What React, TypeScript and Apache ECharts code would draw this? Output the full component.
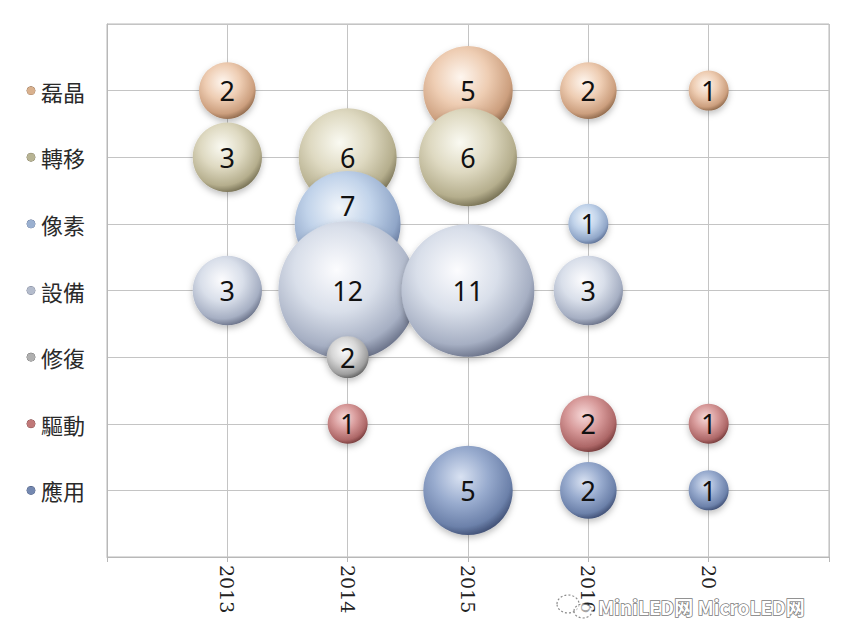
import React, { useEffect, useRef } from "react";
import * as echarts from "echarts";

// Rows, top to bottom
const ROWS = ["磊晶", "轉移", "像素", "設備", "修復", "驅動", "應用"];
const YEAR_TICKS = [2013, 2014, 2015, 2016, 2017];
const YEAR_LABELS = ["2013", "2014", "2015", "2016", "20"];

// Each point: [year, count, bubbleArea] (bubbleArea defaults to count)
const EPI = [[2013, 2], [2015, 5], [2016, 2], [2017, 1]];
const TRANSFER = [[2013, 3], [2014, 6], [2015, 6]];
const PIXEL = [[2014, 7], [2016, 1]];
const EQUIP = [[2013, 3], [2014, 12], [2015, 11], [2016, 3]];
const REPAIR = [[2014, 2, 1.1]];
const DRIVE = [[2014, 1], [2016, 2], [2017, 1]];
const APP = [[2015, 5], [2016, 2], [2017, 1]];

const SERIES_DATA = [EPI, TRANSFER, PIXEL, EQUIP, REPAIR, DRIVE, APP];

// sphere colours: highlight, base, mid, edge, legend dot
const PALETTE = [
  ["#fef6ef", "#eecdb3", "#cc9f7e", "#8a6548", "#d9b18e"],
  ["#fafaf2", "#ded9c1", "#b5ae8d", "#726c50", "#b8b494"],
  ["#f2f6fb", "#c1d3ea", "#90a6c8", "#5a6d92", "#9ab0d0"],
  ["#fcfcfe", "#d9dfea", "#a6afc3", "#656d84", "#b4bccc"],
  ["#fcfcfc", "#d6d6d6", "#9e9e9e", "#5c5c5c", "#b0b0b0"],
  ["#f7d9d9", "#d69898", "#ad6767", "#713838", "#c07878"],
  ["#d9e2f2", "#98abce", "#6c81aa", "#3c4b70", "#7488b0"],
];

const LABEL_RAISE = { row: "像素", year: 2014, dy: -18 };

const App: React.FC = () => {
  const ref = useRef<HTMLDivElement>(null);

  useEffect(() => {
    if (!ref.current) return;
    const chart = echarts.init(ref.current, undefined, { renderer: "svg" });

    const rich: Record<string, any> = {};
    ROWS.forEach((_, i) => {
      rich["d" + i] = {
        width: 8,
        height: 8,
        borderRadius: 4,
        backgroundColor: PALETTE[i][4],
        borderColor: PALETTE[i][3],
        borderWidth: 0.5,
      };
    });
    rich.t = {
      fontFamily: "'Noto Sans CJK TC', 'Noto Sans CJK SC', sans-serif",
      fontSize: 22,
      color: "#2a2a2a",
      padding: [0, 0, 0, 6],
    };

    const series = SERIES_DATA.map((rows, i) => {
      const name = ROWS[i];
      const yVal = ROWS.length - i;
      const [hi, base, mid, edge] = PALETTE[i];
      return {
        type: "scatter",
        name,
        symbol: "circle",
        symbolSize: (v: number[]) => 40 * Math.sqrt(v[3]),
        data: rows.map((p) => {
          const item: any = { value: [p[0], yVal, p[1], p[2] ?? p[1]] };
          if (name === LABEL_RAISE.row && p[0] === LABEL_RAISE.year) {
            item.label = { offset: [0, LABEL_RAISE.dy] };
          }
          return item;
        }),
        itemStyle: {
          opacity: 1,
          color: {
            type: "radial",
            x: 0.42,
            y: 0.35,
            r: 0.68,
            colorStops: [
              { offset: 0, color: hi },
              { offset: 0.45, color: base },
              { offset: 0.82, color: mid },
              { offset: 1, color: edge },
            ],
          },
          shadowBlur: 6,
          shadowColor: "rgba(0,0,0,0.25)",
          shadowOffsetY: 3,
        },
        label: {
          show: true,
          position: "inside",
          formatter: (p: any) => String(p.value[2]),
          fontFamily: "'Noto Sans', sans-serif",
          fontSize: 27,
          color: "#111111",
        },
        emphasis: { disabled: true },
      };
    });

    chart.setOption({
      animation: false,
      backgroundColor: "#ffffff",
      grid: {
        left: 107,
        right: 17,
        top: 24,
        bottom: 77,
        show: true,
        borderColor: "#b8b8b8",
        borderWidth: 1,
        containLabel: false,
      },
      xAxis: {
        type: "value",
        min: 2012,
        max: 2018,
        interval: 1,
        axisLine: { show: true, lineStyle: { color: "#b8b8b8", width: 1 } },
        axisTick: { show: true, length: 5, lineStyle: { color: "#b8b8b8" } },
        splitLine: { show: true, lineStyle: { color: "#c4c4c4", width: 1 } },
        axisLabel: {
          rotate: -90,
          margin: 8,
          fontFamily: "'DejaVu Serif', serif",
          fontSize: 19,
          color: "#222",
          formatter: (v: number) => {
            const idx = YEAR_TICKS.indexOf(v);
            return idx >= 0 ? YEAR_LABELS[idx] : "";
          },
        },
      },
      yAxis: {
        type: "value",
        min: 0,
        max: 8,
        interval: 1,
        axisLine: { show: true, lineStyle: { color: "#b8b8b8", width: 1 } },
        axisTick: { show: false },
        splitLine: { show: true, lineStyle: { color: "#c4c4c4", width: 1 } },
        axisLabel: {
          margin: 22,
          rich,
          formatter: (v: number) => {
            const i = ROWS.length - v;
            if (v < 1 || v > ROWS.length) return "";
            return `{d${i}|}{t|${ROWS[i]}}`;
          },
        },
      },
      graphic: [
        {
          type: "ellipse",
          shape: { cx: 568, cy: 604, rx: 11, ry: 9 },
          style: { fill: "rgba(255,255,255,0.6)", stroke: "#8a8a8a", lineWidth: 1.2, lineDash: [2, 2] },
          z: 100,
        },
        {
          type: "ellipse",
          shape: { cx: 583, cy: 611, rx: 9, ry: 7 },
          style: { fill: "rgba(255,255,255,0.6)", stroke: "#8a8a8a", lineWidth: 1.2, lineDash: [2, 2] },
          z: 100,
        },
        {
          type: "text",
          x: 598,
          y: 597,
          z: 100,
          style: {
            text: "MiniLED网 MicroLED网",
            fontFamily: "'Noto Sans CJK SC', sans-serif",
            fontSize: 19,
            fontWeight: "bold",
            fill: "#ffffff",
            stroke: "#7a7a7a",
            lineWidth: 1.5,
          },
        },
      ],
      series,
    });

    return () => chart.dispose();
  }, []);

  return (
    <div
      ref={ref}
      style={{ position: "fixed", left: 0, top: 0, width: 846, height: 634, background: "#fff" }}
    />
  );
};

export default App;
